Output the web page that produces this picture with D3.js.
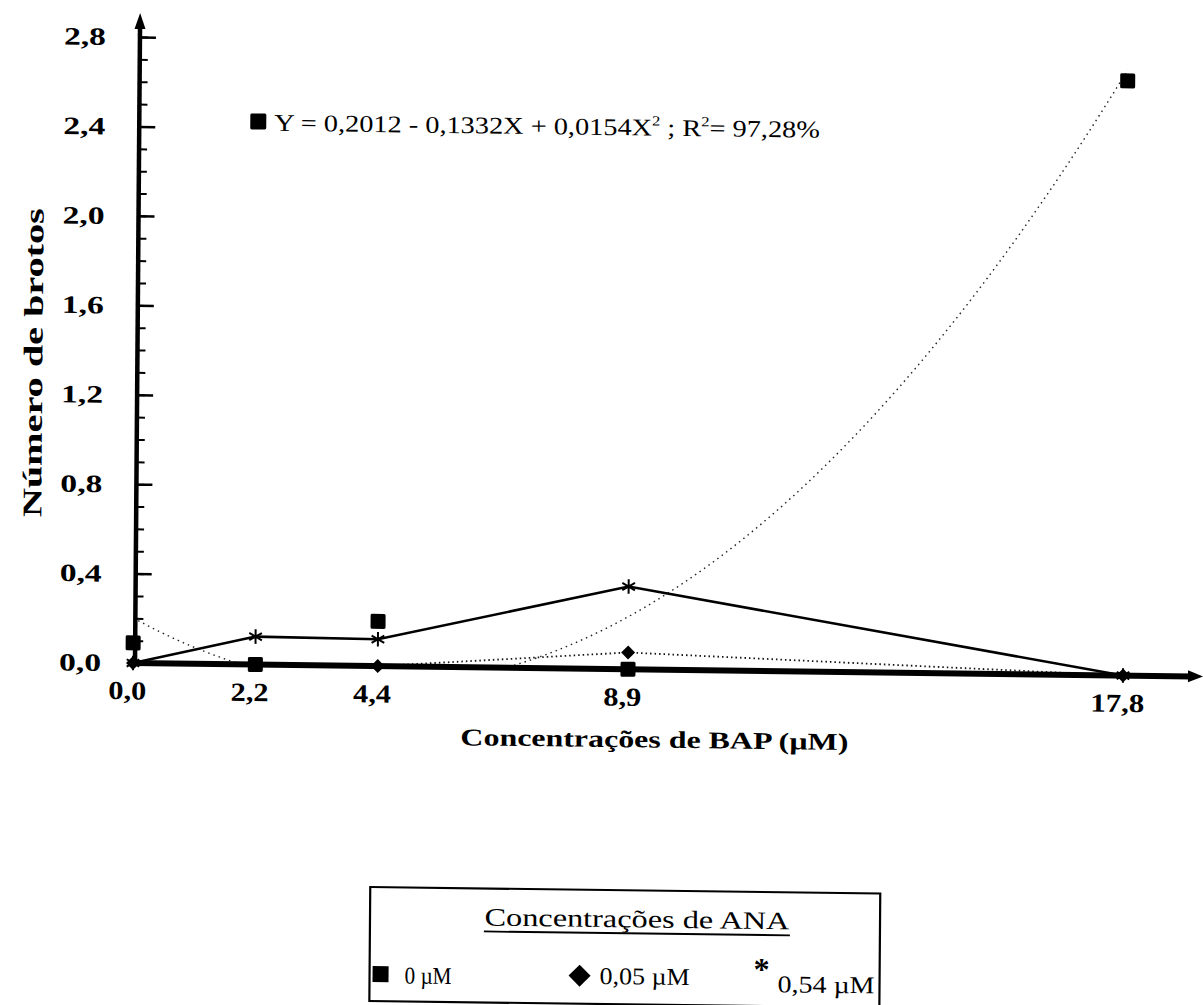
<!DOCTYPE html>
<html>
<head>
<meta charset="utf-8">
<script src="https://cdn.jsdelivr.net/npm/d3@7"></script>
<style>
  body { margin: 0; background: #fff; }
  svg { display: block; }
  text { font-family: "Liberation Serif", "Times New Roman", serif; fill: #000; }
</style>
</head>
<body>
<svg id="chart" width="1203" height="1005"></svg>
<script>
// BAP concentrations (x) and tick labels
const bapLevels = [0, 2.2, 4.4, 8.9, 17.8];
const bapLabels = ["0,0", "2,2", "4,4", "8,9", "17,8"];

// number of shoots per ANA concentration
const ana0 = [0.09, 0, 0.20, 0, 2.66];
const ana005 = [0, 0, 0, 0.075, 0];
const ana054 = [0, 0.125, 0.12, 0.37, 0];

// y ticks
const yMajor = [0, 0.4, 0.8, 1.2, 1.6, 2.0, 2.4, 2.8];
const yMinor = d3.range(0, 29).map(i => i / 10);

// fitted curve for 0 µM ANA (from the equation printed on the chart)
const trendCoef = [0.2012, -0.1332, 0.0154];
const equationParts = ["Y = 0,2012 - 0,1332X + 0,0154X", "2", " ; R", "2", "= 97,28%"];

const legendTitle = "Concentrações de ANA";
const legendLabels = ["0 µM", "0,05 µM", "0,54 µM"];

function diamondPath(r) {
  return `M0,${-r} L${r},0 L0,${r} L${-r},0 Z`;
}

function getConfig() {
  let svg = d3.select("#chart");
  let origin = { x: 135, y: 663 };
  // the scanned figure is slightly skewed; reproduce it with a matrix around the origin
  let b = 0.0127, c = -0.0079;
  let e = -c * origin.y, f = -b * origin.x;
  let root = svg.append("g")
    .attr("transform", `matrix(1,${b},${c},1,${e},${f})`);
  return { svg, root, origin };
}

function getScales() {
  let xScale = d3.scaleLinear().domain([0, 17.8]).range([133, 1123]);
  let yScale = d3.scaleLinear().domain([0, 2.8]).range([663, 37]);
  return { xScale, yScale };
}

function drawAxes(scales, config) {
  let { xScale, yScale } = scales;
  let { root, origin } = config;

  // y ticks (major + minor), labels on the left
  let gMinor = root.append("g").attr("transform", `translate(${origin.x},0)`);
  gMinor.call(d3.axisLeft(yScale).tickValues(yMinor).tickSize(-8).tickFormat(""));
  gMinor.select(".domain").remove();
  gMinor.selectAll("line").attr("stroke", "#000").attr("stroke-width", 2);

  let gY = root.append("g").attr("transform", `translate(${origin.x},0)`);
  gY.call(d3.axisLeft(yScale).tickValues(yMajor).tickSize(-16).tickPadding(34)
    .tickFormat(d => d3.format(".1f")(d).replace(".", ",")));
  gY.select(".domain").remove();
  gY.selectAll("line").attr("stroke", "#000").attr("stroke-width", 2.5);
  gY.selectAll("text")
    .attr("font-size", 25).attr("font-weight", "bold")
    .attr("textLength", 42).attr("lengthAdjust", "spacingAndGlyphs");

  // x tick labels
  let gX = root.append("g").attr("transform", `translate(0,${origin.y})`);
  gX.call(d3.axisBottom(xScale).tickValues(bapLevels).tickSize(0).tickPadding(18)
    .tickFormat((d, i) => bapLabels[i]));
  gX.select(".domain").remove();
  gX.selectAll("text")
    .attr("x", -6)
    .attr("font-size", 26).attr("font-weight", "bold")
    .attr("textLength", (d, i) => bapLabels[i].length > 3 ? 54 : 38)
    .attr("lengthAdjust", "spacingAndGlyphs");

  // y axis line with arrow
  root.append("line")
    .attr("x1", origin.x).attr("y1", origin.y + 3)
    .attr("x2", origin.x).attr("y2", 26)
    .attr("stroke", "#000").attr("stroke-width", 4.5);
  root.append("path")
    .attr("d", `M${origin.x},13 L${origin.x - 5.5},29 L${origin.x + 5.5},29 Z`)
    .attr("fill", "#000");

  // x axis line with arrow
  root.append("line")
    .attr("x1", origin.x - 4).attr("y1", origin.y)
    .attr("x2", 1192).attr("y2", origin.y)
    .attr("stroke", "#000").attr("stroke-width", 6);
  root.append("path")
    .attr("d", `M1203,${origin.y} L1188,${origin.y - 6} L1188,${origin.y + 6} Z`)
    .attr("fill", "#000");
}

function drawSeries(scales, config) {
  let { xScale, yScale } = scales;
  let { root } = config;

  // fitted quadratic, dotted, clipped at zero
  let xs = d3.range(0, 17.8 + 1e-9, 0.1);
  let trend = xs.map(x => [x, Math.max(0, trendCoef[0] + trendCoef[1] * x + trendCoef[2] * x * x)]);
  root.append("path")
    .datum(trend)
    .attr("d", d3.line().x(d => xScale(d[0])).y(d => yScale(d[1])))
    .attr("fill", "none").attr("stroke", "#222")
    .attr("stroke-width", 1.4).attr("stroke-dasharray", "1.5,4");

  // 0,05 µM dotted line
  let pts005 = bapLevels.map((x, i) => [x, ana005[i]]);
  root.append("path")
    .datum(pts005)
    .attr("d", d3.line().x(d => xScale(d[0])).y(d => yScale(d[1])))
    .attr("fill", "none").attr("stroke", "#111")
    .attr("stroke-width", 1.8).attr("stroke-dasharray", "1.5,3");

  // 0,54 µM solid line
  let pts054 = bapLevels.map((x, i) => [x, ana054[i]]);
  root.append("path")
    .datum(pts054)
    .attr("d", d3.line().x(d => xScale(d[0])).y(d => yScale(d[1])))
    .attr("fill", "none").attr("stroke", "#000").attr("stroke-width", 2.6);

  // markers
  root.selectAll(".sq").data(bapLevels.map((x, i) => [x, ana0[i]]))
    .enter().append("rect")
    .attr("class", "sq")
    .attr("x", d => xScale(d[0]) - 7.5).attr("y", d => yScale(d[1]) - 7.5)
    .attr("width", 15).attr("height", 15).attr("rx", 1.5)
    .attr("fill", "#000");

  root.selectAll(".dm").data(pts005)
    .enter().append("path")
    .attr("class", "dm")
    .attr("transform", d => `translate(${xScale(d[0])},${yScale(d[1])})`)
    .attr("d", diamondPath(7))
    .attr("fill", "#000");

  root.selectAll(".st").data(pts054)
    .enter().append("path")
    .attr("class", "st")
    .attr("transform", d => `translate(${xScale(d[0])},${yScale(d[1])})`)
    .attr("d", d3.symbol(d3.symbolAsterisk, 150))
    .attr("fill", "none").attr("stroke", "#000").attr("stroke-width", 2);
}

function drawLabels(config) {
  let { root } = config;

  // y title
  root.append("text")
    .attr("transform", "translate(40,364) rotate(-90)")
    .attr("text-anchor", "middle")
    .attr("font-size", 27).attr("font-weight", "bold")
    .attr("textLength", 309).attr("lengthAdjust", "spacingAndGlyphs")
    .text("Número de brotos");

  // x title
  root.append("text")
    .attr("x", 655).attr("y", 741)
    .attr("text-anchor", "middle")
    .attr("font-size", 24).attr("font-weight", "bold")
    .attr("textLength", 388).attr("lengthAdjust", "spacingAndGlyphs")
    .text("Concentrações de BAP (µM)");

  // equation with square marker
  root.append("rect")
    .attr("x", 246).attr("y", 112).attr("width", 16).attr("height", 16).attr("rx", 1.5)
    .attr("fill", "#000");
  let eq = root.append("g").attr("transform", "translate(270,129) scale(1.18,1)");
  let t = eq.append("text").attr("font-size", 24);
  equationParts.forEach((p, i) => {
    let span = t.append("tspan").text(p);
    if (p === "2") span.attr("font-size", 14).attr("dy", -10);
    else if (i > 0) span.attr("dy", 10);
  });
}

function drawLegend(config) {
  let { root } = config;
  let g = root.append("g");
  g.append("rect")
    .attr("x", 372).attr("y", 884).attr("width", 510).attr("height", 114)
    .attr("fill", "none").attr("stroke", "#000").attr("stroke-width", 2.2);

  g.append("text")
    .attr("x", 639).attr("y", 921)
    .attr("text-anchor", "middle")
    .attr("font-size", 25)
    .attr("textLength", 305).attr("lengthAdjust", "spacingAndGlyphs")
    .text(legendTitle);
  g.append("line")
    .attr("x1", 486).attr("x2", 792).attr("y1", 927).attr("y2", 927)
    .attr("stroke", "#000").attr("stroke-width", 1.8);

  // items
  g.append("rect")
    .attr("x", 375).attr("y", 963).attr("width", 16).attr("height", 16)
    .attr("fill", "#000");
  g.append("path")
    .attr("transform", "translate(582,970)")
    .attr("d", diamondPath(11))
    .attr("fill", "#000");
  g.append("text")
    .attr("x", 764).attr("y", 972)
    .attr("text-anchor", "middle")
    .attr("font-size", 32).attr("font-weight", "bold")
    .text("*");

  let itemPos = [[407, 980, 47], [602, 978, 90], [780, 984, 97]];
  legendLabels.forEach((l, i) => {
    g.append("text")
      .attr("x", itemPos[i][0]).attr("y", itemPos[i][1])
      .attr("font-size", 24)
      .attr("textLength", itemPos[i][2]).attr("lengthAdjust", "spacingAndGlyphs")
      .text(l);
  });
}

let store = {};
store.config = getConfig();
store.scales = getScales();
drawSeries(store.scales, store.config);
drawAxes(store.scales, store.config);
drawLabels(store.config);
drawLegend(store.config);
</script>
</body>
</html>
